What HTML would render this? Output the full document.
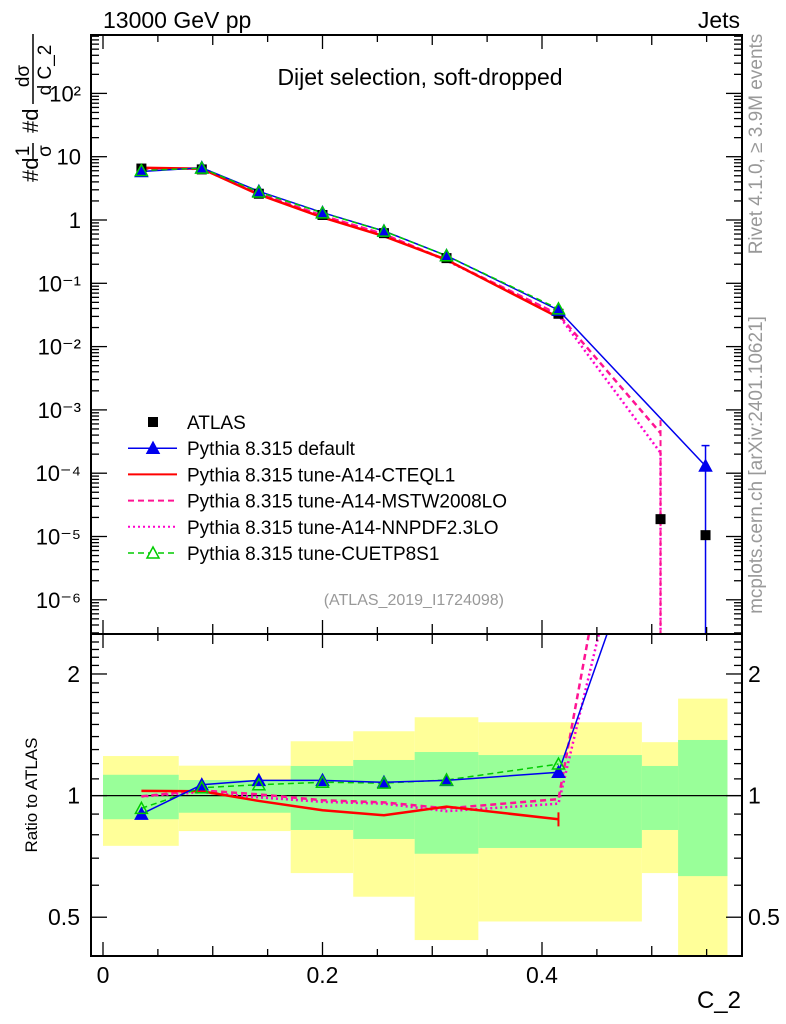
<!DOCTYPE html>
<html><head><meta charset="utf-8"><style>
html,body{margin:0;padding:0;background:#fff;}
svg{display:block;font-family:"Liberation Sans",sans-serif;}
</style></head><body>
<svg id="chart" width="786" height="1024" viewBox="0 0 786 1024" xmlns="http://www.w3.org/2000/svg">
<rect x="0" y="0" width="786" height="1024" fill="#fff"/>
<g id="bands"></g>
<g id="grid"></g>
<g id="series"></g>
<g id="frames" fill="none" stroke="#000" stroke-width="2">
  <rect x="91" y="35" width="651" height="599"/>
  <rect x="91" y="634" width="651" height="322"/>
</g>
<g id="ticks" stroke="#000" stroke-width="1.3"></g>
<g id="labels" font-size="22" fill="#000"></g>
<text x="103" y="28" font-size="23">13000 GeV pp</text>
<text x="740" y="28" font-size="23" text-anchor="end">Jets</text>
<text x="420" y="85" font-size="23" text-anchor="middle">Dijet selection, soft-dropped</text>
<text transform="translate(762,144) rotate(-90)" font-size="19" fill="#999" text-anchor="middle">Rivet 4.1.0, ≥ 3.9M events</text>
<text transform="translate(762,465) rotate(-90)" font-size="19" fill="#999" text-anchor="middle">mcplots.cern.ch [arXiv:2401.10621]</text>
<text x="504" y="605" font-size="16" fill="#999" text-anchor="end">(ATLAS_2019_I1724098)</text>
<g transform="translate(38,182) rotate(-90)" font-size="22">
  <text x="0" y="0">#d</text>
  <text x="31" y="-9" font-size="19" text-anchor="middle">1</text>
  <line x1="23" y1="-5" x2="39" y2="-5" stroke="#000" stroke-width="1.5"/>
  <text x="31" y="13" font-size="19" text-anchor="middle">σ</text>
  <text x="49" y="0">#d</text>
  <text x="106" y="-9" font-size="19" text-anchor="middle">dσ</text>
  <line x1="78" y1="-5" x2="148" y2="-5" stroke="#000" stroke-width="1.5"/>
  <text x="112" y="13" font-size="19" text-anchor="middle">d C_2</text>
</g>
<text transform="translate(37,795) rotate(-90)" font-size="17" text-anchor="middle">Ratio to ATLAS</text>
<text x="741" y="1008" font-size="24" text-anchor="end">C_2</text>
<g id="legend" font-size="19"></g>
</svg>
<script>
// ---- data ----
const xPts = [0.035, 0.09, 0.142, 0.2, 0.256, 0.313, 0.415];
const xTail1 = 0.508;
const xTail2 = 0.549;
const atlas = [6.5, 6.3, 2.6, 1.2, 0.62, 0.25, 0.033];
const atlasTail = [1.88e-5, 1.05e-5];
const mainDefault = [5.85, 6.7, 2.84, 1.31, 0.67, 0.273, 0.0377];
const mainDefaultTail = 1.3e-4;
const mainCTEQ = [6.68, 6.46, 2.52, 1.10, 0.555, 0.235, 0.0289];
const mainMSTW = [6.47, 6.49, 2.62, 1.17, 0.596, 0.2325, 0.0323];
const mainMSTWTail = 4.3e-4;
const mainNNPDF = [6.47, 6.43, 2.57, 1.16, 0.592, 0.229, 0.0315];
const mainNNPDFTail = 2.1e-4;
const mainCUET = [6.05, 6.59, 2.77, 1.295, 0.666, 0.273, 0.0395];
const ratioDefault = [0.9, 1.064, 1.091, 1.091, 1.079, 1.091, 1.142];
const ratioDefaultTail = 12.4;
const ratioCTEQ = [1.027, 1.025, 0.97, 0.92, 0.894, 0.939, 0.874];
const ratioMSTW = [0.996, 1.03, 1.007, 0.974, 0.962, 0.93, 0.98];
const ratioMSTWTail = 23;
const ratioNNPDF = [0.995, 1.02, 0.99, 0.965, 0.955, 0.915, 0.955];
const ratioNNPDFTail = 11;
const ratioCUET = [0.93, 1.046, 1.064, 1.079, 1.074, 1.093, 1.197];
const bandEdges = [0, 0.069, 0.171, 0.228, 0.284, 0.342, 0.491, 0.524, 0.569];
const yellowHi = [1.253, 1.186, 1.363, 1.443, 1.563, 1.519, 1.356, 1.738];
const yellowLo = [0.751, 0.817, 0.643, 0.562, 0.439, 0.488, 0.643, 0.4];
const greenHi = [1.126, 1.093, 1.184, 1.225, 1.282, 1.26, 1.184, 1.373];
const greenLo = [0.874, 0.907, 0.822, 0.781, 0.718, 0.742, 0.822, 0.632];
const xTickLabels = ["0", "0.2", "0.4"];
const mainTickLabels = ["10²", "10", "1", "10⁻¹", "10⁻²", "10⁻³", "10⁻⁴", "10⁻⁵", "10⁻⁶"];
const ratioTickLabels = ["0.5", "1", "2"];

// ---- scales ----
const X = v => 103 + 1097.5 * v;
const Y = v => 220 - 63.3 * Math.log10(v);
const R = v => 795.6 - 404 * Math.log10(v);
const NS = "http://www.w3.org/2000/svg";
function mk(tag, attrs, parent) {
  const e = document.createElementNS(NS, tag);
  for (const k in attrs) e.setAttribute(k, attrs[k]);
  parent.appendChild(e);
  return e;
}
const svg = document.getElementById('chart');
const defs = mk('defs', {}, svg);
const cm = mk('clipPath', {id: 'clipMain'}, defs);
mk('rect', {x: 91, y: 35, width: 651, height: 599}, cm);
const cr = mk('clipPath', {id: 'clipRatio'}, defs);
mk('rect', {x: 91, y: 634, width: 651, height: 322}, cr);

// bands
const bands = document.getElementById('bands');
bands.setAttribute('clip-path', 'url(#clipRatio)');
for (let i = 0; i < yellowHi.length; i++) {
  const y = mk('rect', {x: X(bandEdges[i]), y: R(yellowHi[i]), width: X(bandEdges[i+1]) - X(bandEdges[i]), height: R(yellowLo[i]) - R(yellowHi[i]), fill: '#ffff99'}, bands);
  
  
}
for (let i = 0; i < greenHi.length; i++) {
  const g = mk('rect', {x: X(bandEdges[i]), y: R(greenHi[i]), width: X(bandEdges[i+1]) - X(bandEdges[i]), height: R(greenLo[i]) - R(greenHi[i]), fill: '#99ff99'}, bands);
  
  
}
const unity = mk('line', {x1: 91, x2: 742, y1: R(1), y2: R(1), stroke: '#000', 'stroke-width': 1.3}, bands);



// ticks
const tk = document.getElementById('ticks');
const lb = document.getElementById('labels');
for (let i = 0; i <= 11; i++) {
  const v = i * 0.05;
  const len = (i % 4 === 0) ? 14 : (i % 2 === 0 ? 10 : 7);
  mk('line', {x1: X(v), x2: X(v), y1: 35, y2: 35 + len}, tk);
  mk('line', {x1: X(v), x2: X(v), y1: 634, y2: 634 - len}, tk);
  mk('line', {x1: X(v), x2: X(v), y1: 634, y2: 634 + len}, tk);
  mk('line', {x1: X(v), x2: X(v), y1: 956, y2: 956 - len}, tk);
}
xTickLabels.forEach((t, i) => {
  const e = mk('text', {x: X(i * 0.2), y: 983, 'text-anchor': 'middle', 'font-size': 23}, lb);
  e.textContent = t;
  
  
});
for (let d = -7; d <= 2; d++) {
  for (let m = 1; m <= 9; m++) {
    const v = m * Math.pow(10, d);
    const y = Y(v);
    if (y < 36 || y > 633) continue;
    const len = m === 1 ? 16 : 8;
    mk('line', {x1: 91, x2: 91 + len, y1: y, y2: y}, tk);
    mk('line', {x1: 742, x2: 742 - len, y1: y, y2: y}, tk);
  }
}
mainTickLabels.forEach((t, i) => {
  const e = mk('text', {x: 81, y: Y(Math.pow(10, 2 - i)) + 8, 'text-anchor': 'end', 'font-size': 22}, lb);
  e.textContent = t;
  
  
});
for (let k = 4; k <= 25; k++) {
  const v = k / 10;
  const y = R(v);
  if (y < 636 || y > 955) continue;
  const len = (k === 5 || k === 10 || k === 20) ? 16 : 8;
  mk('line', {x1: 91, x2: 91 + len, y1: y, y2: y}, tk);
  mk('line', {x1: 742, x2: 742 - len, y1: y, y2: y}, tk);
}
ratioTickLabels.forEach((t, i) => {
  const v = [0.5, 1, 2][i];
  const e = mk('text', {x: 80, y: R(v) + 8, 'text-anchor': 'end', 'font-size': 23}, lb);
  e.textContent = t;
  
  
  const e2 = mk('text', {x: 748, y: R(v) + 8, 'text-anchor': 'start', 'font-size': 23}, lb);
  e2.textContent = t;
  
  
});

// series
const ser = document.getElementById('series');
const gm = mk('g', {'clip-path': 'url(#clipMain)'}, ser);
const gr = mk('g', {'clip-path': 'url(#clipRatio)'}, ser);
function line(g, xs, vs, sc, st, name) {
  const p = mk('polyline', {points: xs.map((x, i) => X(x) + ',' + sc(vs[i])).join(' '), fill: 'none', stroke: st.c, 'stroke-width': st.w, 'stroke-dasharray': st.d || 'none'}, g);
  
  
}
function tri(g, x, y, fill, stroke, name) {
  const p = mk('polygon', {points: `${x},${y-6} ${x-6},${y+5} ${x+6},${y+5}`, fill: fill, stroke: stroke, 'stroke-width': 1.5}, g);
  
  
}
const sDef = {c: '#0000ee', w: 1.5}, sCT = {c: '#ff0000', w: 2.5}, sMS = {c: '#ff1493', w: 2.5, d: '6 4'}, sNN = {c: '#ff00cc', w: 2.5, d: '2 3'}, sCU = {c: '#00cc00', w: 1.5, d: '6 4'};
// main
line(gm, xPts.concat([xTail1]), mainNNPDF.concat([mainNNPDFTail]), Y, sNN, 'nnpdf-line');
line(gm, xPts.concat([xTail1]), mainMSTW.concat([mainMSTWTail]), Y, sMS, 'mstw-line');
line(gm, xPts, mainCTEQ, Y, sCT, 'cteql1-line');
line(gm, xPts.concat([xTail2]), mainDefault.concat([mainDefaultTail]), Y, sDef, 'default-line');
line(gm, xPts, mainCUET, Y, sCU, 'cuetp8s1-line');
// tail error bars
mk('line', {x1: X(xTail1), x2: X(xTail1), y1: Y(mainNNPDFTail), y2: 634, stroke: '#ff00cc', 'stroke-width': 2.5, 'stroke-dasharray': '2 3'}, gm);
mk('line', {x1: X(xTail1), x2: X(xTail1), y1: Y(mainMSTWTail * 1.6), y2: 634, stroke: '#ff1493', 'stroke-width': 2, 'stroke-dasharray': '6 4'}, gm);
mk('line', {x1: X(xTail2), x2: X(xTail2), y1: Y(mainDefaultTail * 2.1), y2: 634, stroke: '#0000ee', 'stroke-width': 1.5}, gm);
mk('line', {x1: X(xTail2) - 4, x2: X(xTail2) + 4, y1: Y(mainDefaultTail * 2.1), y2: Y(mainDefaultTail * 2.1), stroke: '#0000ee', 'stroke-width': 1.5}, gm);
const allX = xPts.concat([xTail1, xTail2]);
const allD = atlas.concat(atlasTail);
allX.forEach((x, i) => {
  const r = mk('rect', {x: X(x) - 5, y: Y(allD[i]) - 5, width: 10, height: 10, fill: '#000'}, gm);
  
  
});
xPts.forEach((x, i) => tri(gm, X(x), Y(mainDefault[i]), '#0000ee', '#0000ee', 'default-marker'));
tri(gm, X(xTail2), Y(mainDefaultTail), '#0000ee', '#0000ee', 'default-marker');
xPts.forEach((x, i) => tri(gm, X(x), Y(mainCUET[i]), 'none', '#00cc00', 'cuetp8s1-marker'));
// ratio
line(gr, xPts.concat([xTail1]), ratioNNPDF.concat([ratioNNPDFTail]), R, sNN, 'nnpdf-ratio');
line(gr, xPts.concat([xTail1]), ratioMSTW.concat([ratioMSTWTail]), R, sMS, 'mstw-ratio');
line(gr, xPts, ratioCTEQ, R, sCT, 'cteql1-ratio');
line(gr, xPts, ratioCUET, R, sCU, 'cuetp8s1-ratio');
line(gr, xPts.concat([xTail2]), ratioDefault.concat([ratioDefaultTail]), R, sDef, 'default-ratio');
mk('line', {x1: X(xPts[6]), x2: X(xPts[6]), y1: R(ratioCTEQ[6] * 1.04), y2: R(ratioCTEQ[6] * 0.96), stroke: '#ff0000', 'stroke-width': 2}, gr);
xPts.forEach((x, i) => tri(gr, X(x), R(ratioDefault[i]), '#0000ee', '#0000ee', 'default-ratio-marker'));
xPts.forEach((x, i) => tri(gr, X(x), R(ratioCUET[i]), 'none', '#00cc00', 'cuetp8s1-ratio-marker'));

// legend
const lg = document.getElementById('legend');
const entries = [
  ['ATLAS', null, 'legend-atlas'],
  ['Pythia 8.315 default', sDef, 'legend-default'],
  ['Pythia 8.315 tune-A14-CTEQL1', sCT, 'legend-cteql1'],
  ['Pythia 8.315 tune-A14-MSTW2008LO', sMS, 'legend-mstw'],
  ['Pythia 8.315 tune-A14-NNPDF2.3LO', sNN, 'legend-nnpdf'],
  ['Pythia 8.315 tune-CUETP8S1', sCU, 'legend-cuetp8s1']
];
entries.forEach((en, i) => {
  const y = 422 + i * 26.2;
  const g = mk('g', {}, lg);
  
  
  if (en[1]) {
    mk('line', {x1: 128, x2: 177, y1: y, y2: y, stroke: en[1].c, 'stroke-width': en[1].w === 2.5 ? 2 : 1.5, 'stroke-dasharray': en[1].d || 'none'}, g);
  } else {
    mk('rect', {x: 148, y: y - 5, width: 10, height: 10, fill: '#000'}, g);
  }
  if (i === 1) tri(g, 153, y, '#0000ee', '#0000ee', 'legend-default-marker');
  if (i === 5) tri(g, 153, y, '#fff', '#00cc00', 'legend-cuet-marker');
  const t = mk('text', {x: 187, y: y + 7}, g);
  t.textContent = en[0];
});
</script>
</body></html>
